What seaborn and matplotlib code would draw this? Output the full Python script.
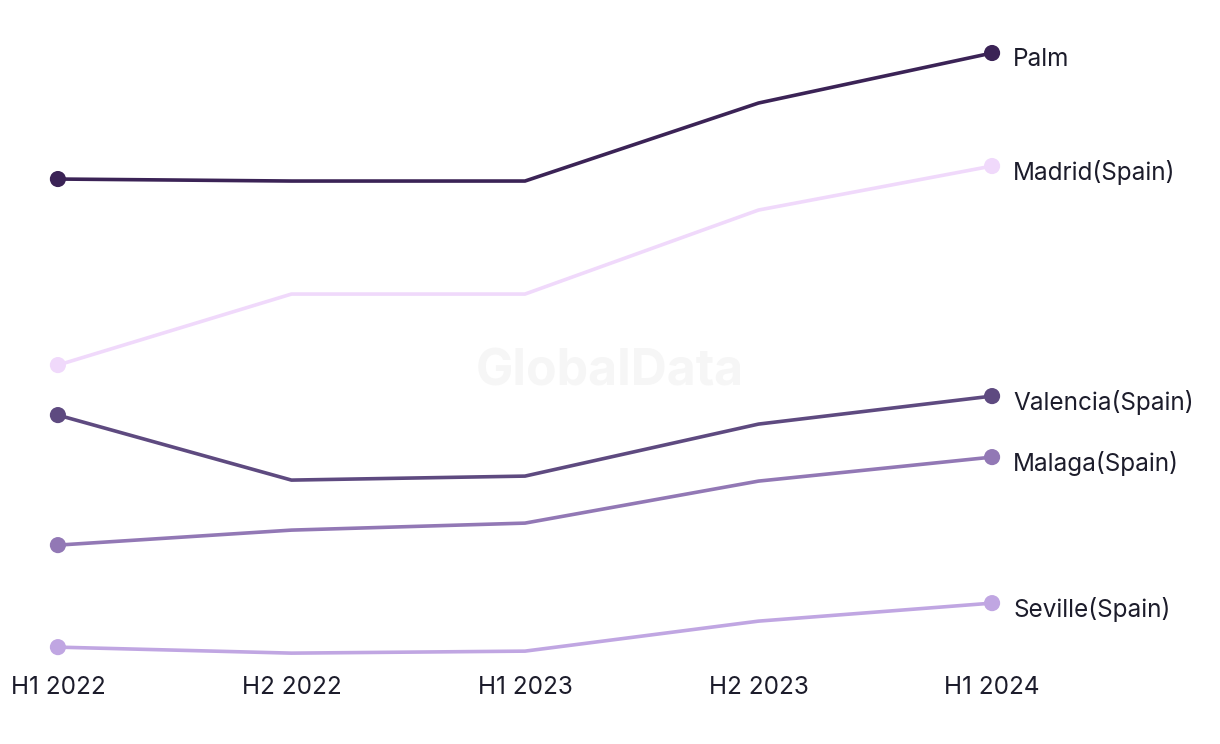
import numpy as np
import pandas as pd
import matplotlib.pyplot as plt
import seaborn as sns

# Data (arbitrary units - no y axis shown)
periods = ["H1 2022", "H2 2022", "H1 2023", "H2 2023", "H1 2024"]
cities = ["Palm", "Madrid(Spain)", "Valencia(Spain)", "Malaga(Spain)", "Seville(Spain)"]
palm = [52.1, 51.9, 51.9, 59.7, 64.7]
madrid = [33.5, 40.6, 40.6, 49.0, 53.4]
valencia = [28.5, 22.0, 22.4, 27.6, 30.4]
malaga = [15.5, 17.0, 17.7, 21.9, 24.3]
seville = [5.3, 4.7, 4.9, 7.9, 9.7]
colors = ["#3b2356", "#f0d9fb", "#5e4a80", "#9278b5", "#c0a6e2"]

series = [palm, madrid, valencia, malaga, seville]
df = pd.DataFrame({
    "period": periods * len(cities),
    "x": list(range(len(periods))) * len(cities),
    "city": [c for c in cities for _ in periods],
    "value": [v for s in series for v in s],
})
ends = df[df["x"].isin([0, len(periods) - 1])]

sns.set_style("white")
plt.rcParams["font.family"] = ["Inter", "DejaVu Sans"]

fig = plt.figure(figsize=(12.2, 7.44), dpi=100)
ax = fig.add_axes([0, 0.106, 1, 0.894])

palette = dict(zip(cities, colors))
sns.lineplot(data=df, x="x", y="value", hue="city", palette=palette,
             linewidth=2.6, legend=False, ax=ax, zorder=3)
sns.scatterplot(data=ends, x="x", y="value", hue="city", palette=palette,
                s=135, edgecolor="none", legend=False, ax=ax, zorder=4)

# end labels
last = len(periods) - 1
for city, s in zip(cities, series):
    ax.text(last + 0.09, s[-1] - 0.6, city, fontsize=17.5, color="#1c1c2b",
            va="center", ha="left")

# watermark
ax.text(0.5, 0.44, "GlobalData", transform=ax.transAxes, fontsize=36,
        fontweight="bold", color="#f6f6f6", ha="center", va="center", zorder=0)

ax.set_xlim(-0.248, 4.976)
ax.set_ylim(3.5, 70)
ax.set_xticks(range(len(periods)))
ax.set_xticklabels(periods, fontsize=17.5, color="#1c1c2b")
ax.tick_params(axis="x", length=0, pad=8)
ax.set_yticks([])
ax.set_xlabel("")
ax.set_ylabel("")
sns.despine(ax=ax, left=True, bottom=True)

fig.savefig("out.png", dpi=100)
